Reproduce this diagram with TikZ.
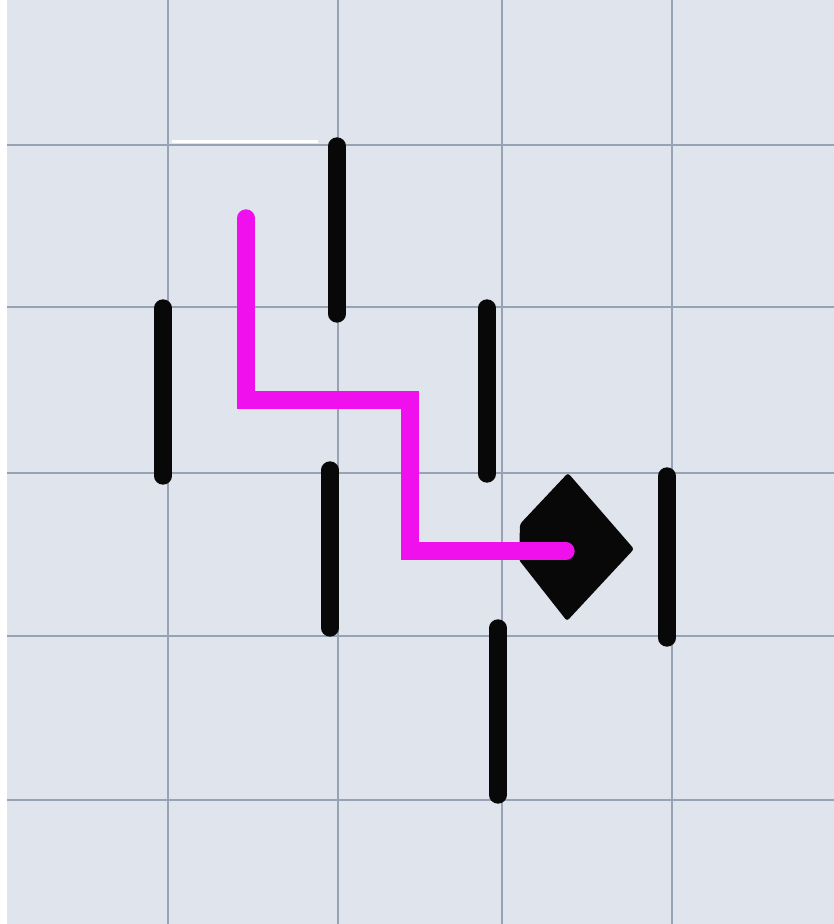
\documentclass[tikz,border=0pt]{standalone}
\usetikzlibrary{calc}
\definecolor{cPaper}{HTML}{E0E4EC}
\definecolor{cGrid}{HTML}{97A3B5}
\definecolor{cWall}{HTML}{080808}
\definecolor{cPath}{HTML}{F010EE}
\tikzset{
  gridln/.style={draw=cGrid, line width=0.8mm},
  wall/.style={draw=cWall, line width=5.2mm, line cap=round},
  route/.style={draw=cPath, line width=5.2mm, line cap=round, line join=miter},
  goal/.style={fill=cWall, draw=none, rounded corners=0.8mm},
}
\begin{document}
\begin{tikzpicture}[x=0.3mm, y=-0.3mm]
\useasboundingbox (0,0) rectangle (834,924);
% paper
\fill[cPaper] (0,0) rectangle (834,924);
\fill[white] (0,0) rectangle (7,924);
\foreach \gx in {168,338,502,672} \draw[gridln] (\gx,0) -- (\gx,924);
\foreach \gy in {145,307,473,636,800} \draw[gridln] (7,\gy) -- (834,\gy);
\draw[white, line width=0.9mm] (172,141) -- (318,141);
% walls
\coordinate (a1) at (337,146); \coordinate (a2) at (337,314);
\coordinate (b1) at (163,308); \coordinate (b2) at (163,476);
\coordinate (c1) at (487,308); \coordinate (c2) at (487,474);
\coordinate (d1) at (330,470); \coordinate (d2) at (330,628);
\coordinate (e1) at (667,476); \coordinate (e2) at (667,638);
\coordinate (f1) at (498,628); \coordinate (f2) at (498,795);
\foreach \w in {a,b,c,d,e,f} \draw[wall] (\w1) -- (\w2);
% goal
\coordinate (gt) at (568,473);
\coordinate (gr) at (634,549);
\coordinate (gb) at (567,621);
\coordinate (gl1) at (519,560);
\coordinate (gl2) at (520,524);
\fill[goal] (gt) -- (gr) -- (gb) -- (gl1) -- (gl2) -- cycle;
% route
\coordinate (s) at (246,218);
\coordinate (p1) at (246,400);
\coordinate (p2) at (410,400);
\coordinate (p3) at (410,551);
\coordinate (t) at (566,551);
\draw[route] (s) -- (p1) -- (p2) -- (p3) -- (t);
\end{tikzpicture}
\end{document}
